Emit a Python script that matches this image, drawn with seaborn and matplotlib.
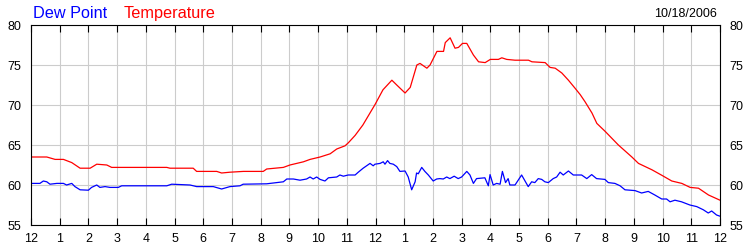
import matplotlib
matplotlib.use("Agg")
import matplotlib.pyplot as plt
import seaborn as sns
import pandas as pd

# ---- data (hours after midnight, degrees F) ----
temp_hours = [0.0, 0.55, 0.84, 1.13, 1.42, 1.71, 2.06, 2.29, 2.64, 2.81, 3.56, 4.73, 4.84,
              5.65, 5.77, 6.47, 6.64, 6.93, 7.40, 8.09, 8.21, 8.79, 9.02, 9.49, 9.72, 10.07,
              10.42, 10.65, 10.94, 11.06, 11.29, 11.56, 11.99, 12.26, 12.57, 12.74, 13.03,
              13.21, 13.44, 13.55, 13.79, 13.90, 14.14, 14.37, 14.43, 14.60, 14.77, 14.89,
              15.03, 15.18, 15.41, 15.59, 15.82, 16.00, 16.28, 16.40, 16.57, 16.86, 17.33,
              17.45, 17.91, 18.08, 18.26, 18.49, 18.72, 18.95, 19.13, 19.30, 19.54, 19.71,
              20.00, 20.46, 20.93, 21.16, 21.63, 21.98, 22.32, 22.67, 22.96, 23.25, 23.60, 24.0]
temp_vals = [63.5, 63.5, 63.2, 63.2, 62.8, 62.1, 62.1, 62.6, 62.5, 62.2, 62.2, 62.2, 62.1,
             62.1, 61.7, 61.7, 61.5, 61.6, 61.7, 61.7, 62.0, 62.2, 62.5, 62.9, 63.2, 63.5,
             63.9, 64.5, 64.9, 65.3, 66.2, 67.5, 70.1, 71.9, 73.1, 72.5, 71.5,
             72.2, 75.0, 75.2, 74.6, 75.0, 76.7, 76.7, 77.8, 78.4, 77.1, 77.2,
             77.7, 77.7, 76.25, 75.4, 75.3, 75.7, 75.7, 75.9, 75.7, 75.6, 75.6,
             75.4, 75.3, 74.7, 74.6, 74.0, 73.1, 72.1, 71.3, 70.4, 69.0, 67.7,
             66.7, 65.0, 63.5, 62.7, 61.9, 61.2, 60.5, 60.2, 59.7, 59.6, 58.75, 58.1]

dew_hours = [0.0, 0.31, 0.43, 0.55, 0.66, 0.90, 1.13, 1.24, 1.42, 1.53, 1.71, 2.00, 2.11,
             2.29, 2.40, 2.58, 2.75, 3.04, 3.16, 3.56, 4.73, 4.90, 5.54, 5.77, 6.35, 6.64,
             6.93, 7.28, 7.39, 8.21, 8.56, 8.79, 8.91, 9.14, 9.37, 9.60, 9.72, 9.83, 9.95,
             10.07, 10.24, 10.36, 10.65, 10.76, 10.88, 11.05, 11.29, 11.40, 11.57, 11.81,
             11.92, 11.98, 12.16, 12.27, 12.33, 12.42, 12.50, 12.62, 12.74, 12.85, 13.03,
             13.14, 13.26, 13.38, 13.43, 13.49, 13.61, 13.72, 13.84, 14.01, 14.13, 14.24,
             14.36, 14.48, 14.59, 14.74, 14.88, 15.00, 15.18, 15.29, 15.41, 15.52, 15.81,
             15.93, 15.99, 16.10, 16.22, 16.34, 16.42, 16.53, 16.62, 16.68, 16.86, 16.97,
             17.09, 17.21, 17.32, 17.44, 17.55, 17.67, 17.79, 17.90, 18.02, 18.19, 18.31,
             18.43, 18.54, 18.72, 18.89, 19.18, 19.36, 19.53, 19.70, 19.99, 20.11, 20.34,
             20.52, 20.69, 21.04, 21.27, 21.50, 21.73, 21.97, 22.14, 22.26, 22.43, 22.66,
             22.95, 23.19, 23.42, 23.59, 23.71, 23.88, 24.0]
dew_vals = [60.2, 60.2, 60.5, 60.4, 60.1, 60.2, 60.2, 60.0, 60.2, 59.8, 59.4, 59.35, 59.7,
            60.0, 59.7, 59.8, 59.7, 59.7, 59.9, 59.9, 59.9, 60.1, 60.0, 59.8, 59.8, 59.5,
            59.8, 59.9, 60.1, 60.15, 60.3, 60.4, 60.75, 60.75, 60.6, 60.75, 61.0, 60.75, 61.0,
            60.7, 60.5, 60.9, 61.0, 61.25, 61.1, 61.25, 61.25, 61.6, 62.1, 62.7,
            62.4, 62.6, 62.7, 62.9, 62.6, 63.05, 62.7, 62.6, 62.3, 61.7, 61.75,
            61.0, 59.4, 60.4, 61.5, 61.4, 62.2, 61.7, 61.25, 60.5, 60.75, 60.8,
            60.75, 61.0, 60.8, 61.1, 60.8, 61.0, 61.7, 61.25, 60.2, 60.8, 60.9,
            59.9, 61.3, 60.0, 60.2, 60.1, 61.7, 60.3, 60.8, 60.0, 60.0, 60.6,
            61.25, 60.5, 59.8, 60.4, 60.3, 60.8, 60.7, 60.4, 60.3, 60.8, 61.0,
            61.6, 61.25, 61.75, 61.25, 61.25, 60.8, 61.3, 60.8, 60.7, 60.3, 60.2,
            59.9, 59.4, 59.3, 59.0, 59.2, 58.75, 58.25, 58.25, 57.9, 58.1, 57.9,
            57.5, 57.3, 56.9, 56.5, 56.75, 56.25, 56.1]

hour_ticks = list(range(25))
hour_labels = ["12", "1", "2", "3", "4", "5", "6", "7", "8", "9", "10", "11",
               "12", "1", "2", "3", "4", "5", "6", "7", "8", "9", "10", "11", "12"]
y_ticks = [55, 60, 65, 70, 75, 80]
date_label = "10/18/2006"

# ---- style ----
sns.set_style("white")
plt.rcParams["font.family"] = ["Liberation Sans", "DejaVu Sans"]

fig = plt.figure(figsize=(7.5, 2.5), dpi=100)
ax = fig.add_axes([31 / 750, 25 / 250, 689 / 750, 200 / 250])

temp_df = pd.DataFrame({"hour": temp_hours, "value": temp_vals})
dew_df = pd.DataFrame({"hour": dew_hours, "value": dew_vals})
sns.lineplot(data=temp_df, x="hour", y="value", color="#ff0000", linewidth=0.9, ax=ax)
sns.lineplot(data=dew_df, x="hour", y="value", color="#0000ff", linewidth=0.9, ax=ax)

ax.set_xlim(0, 24)
ax.set_ylim(55, 80)
ax.set_xticks(hour_ticks)
ax.set_xticklabels(hour_labels)
ax.set_yticks(y_ticks)
ax.set_xlabel("")
ax.set_ylabel("")
ax.grid(True, color="#cccccc", linewidth=0.8)
ax.set_axisbelow(True)
for s in ax.spines.values():
    s.set_color("black")
    s.set_linewidth(0.8)
    s.set_visible(True)

ax.tick_params(axis="x", direction="in", length=5, width=0.8, color="black",
               top=True, bottom=True, labelsize=9, pad=6, labelcolor="black")
ax.tick_params(axis="y", length=0, labelsize=9, pad=7, labelleft=True,
               labelright=True, labelcolor="black")

fig.text(33 / 750, 1 - 18 / 250, "Dew Point", color="#0000ff", fontsize=11.7,
         ha="left", va="baseline")
fig.text(124 / 750, 1 - 18 / 250, "Temperature", color="#ff0000", fontsize=11.7,
         ha="left", va="baseline")
fig.text(717 / 750, 1 - 17 / 250, date_label, color="black", fontsize=9,
         ha="right", va="baseline")

fig.savefig("out.png", dpi=100)
